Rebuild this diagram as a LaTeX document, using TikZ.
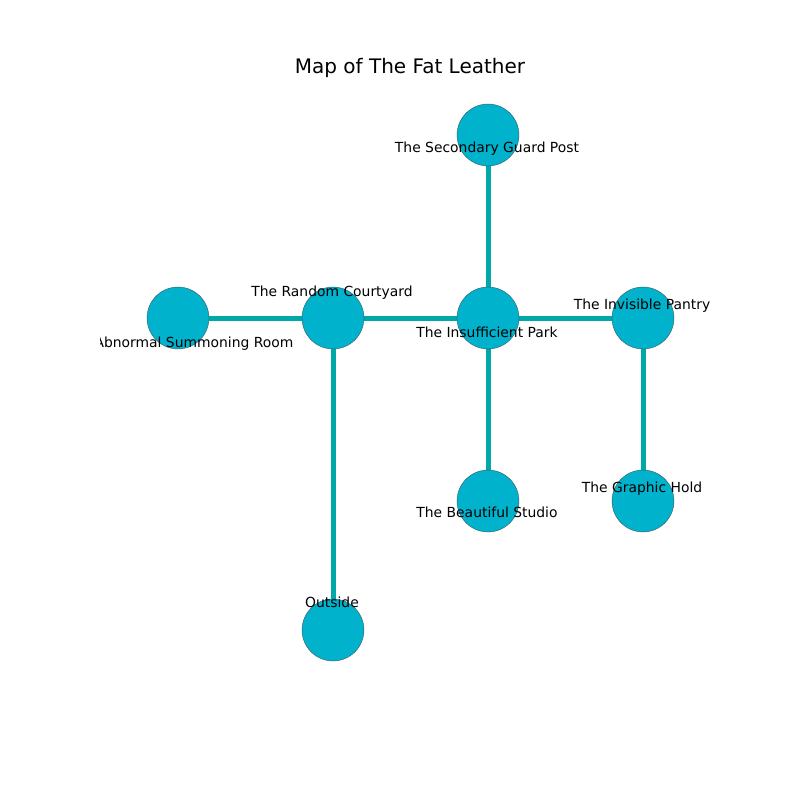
\documentclass[tikz,border=0pt]{standalone}
\usepackage{fontspec}
\setmainfont{DejaVu Sans}
\definecolor{nodefill}{RGB}{0,178,204}
\definecolor{edgecol}{RGB}{0,168,168}
\definecolor{nodeline}{RGB}{60,90,100}
\tikzset{
  room/.style={circle, fill=nodefill, draw=nodeline, line width=0.3pt, minimum size=44.6pt, inner sep=0pt},
  link/.style={draw=edgecol, line width=3.6pt},
  lbl/.style={font=\fontsize{10}{12}\selectfont, inner sep=0pt, text=black}
}
\begin{document}
\begin{tikzpicture}[x=0.72pt, y=-0.72pt]
\useasboundingbox (0,0) rectangle (800,800);
\node[font=\fontsize{14.4}{17}\selectfont, inner sep=0pt] (title) at (410,68) {Map of The Fat Leather};
\begin{scope}
\clip (100,96) rectangle (720,704);
\coordinate (psg) at (488,135);
\coordinate (prc) at (333,318);
\coordinate (pip) at (488,318);
\coordinate (pin) at (643,318);
\coordinate (pab) at (178,318);
\coordinate (pbs) at (488,501);
\coordinate (pgh) at (643,501);
\coordinate (pout) at (333,630);
\draw[link] (pab) -- (prc);
\draw[link] (prc) -- (pip);
\draw[link] (pip) -- (pin);
\draw[link] (pip) -- (psg);
\draw[link] (pip) -- (pbs);
\draw[link] (pin) -- (pgh);
\draw[link] (prc) -- (pout);
\node[room] (sg) at (psg) {};
\node[room] (rc) at (prc) {};
\node[room] (ip) at (pip) {};
\node[room] (in) at (pin) {};
\node[room] (ab) at (pab) {};
\node[room] (bs) at (pbs) {};
\node[room] (gh) at (pgh) {};
\node[room] (out) at (pout) {};
\node[lbl] (lsg) at (487,149) {The Secondary Guard Post};
\node[lbl] (lrc) at (332,293) {The Random Courtyard};
\node[lbl] (lip) at (487,332) {The Insufficient Park};
\node[lbl] (lin) at (642,306) {The Invisible Pantry};
\node[lbl] (lab) at (194,344) {Abnormal Summoning Room};
\node[lbl] (lbs) at (487,512) {The Beautiful Studio};
\node[lbl] (lgh) at (642,489) {The Graphic Hold};
\node[lbl] (lout) at (332,602) {Outside};
\end{scope}
\end{tikzpicture}
\end{document}
